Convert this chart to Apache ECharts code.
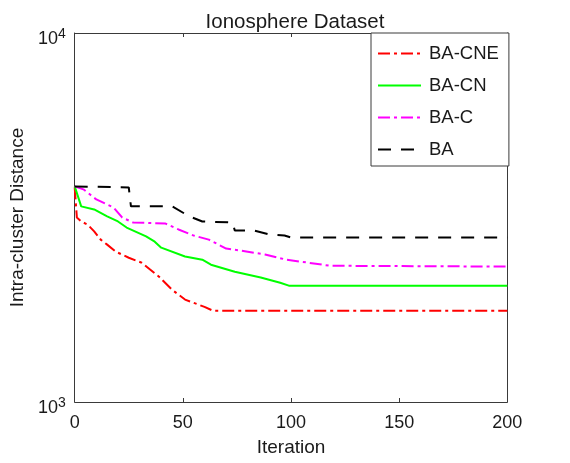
<!DOCTYPE html>
<html>
<head>
<meta charset="utf-8">
<script src="https://cdn.jsdelivr.net/npm/echarts@6/dist/echarts.min.js"></script>
<style>
  html, body { margin: 0; padding: 0; background: #fff; }
  #chart { width: 570px; height: 463px; }
</style>
</head>
<body>
<div id="chart"></div>
<script>
// Ionosphere Dataset - intra-cluster distance per iteration
const xTicks = [0, 50, 100, 150, 200];
const seriesNames = ['BA-CNE', 'BA-CN', 'BA-C', 'BA'];

const cneIter = [0, 1, 3, 6, 9, 12, 15, 19, 25, 31, 39, 45, 51, 60, 64, 200];
const cneDist = [3815, 3160, 3085, 3025, 2900, 2755, 2670, 2555, 2460, 2385, 2185, 2015, 1895, 1810, 1767, 1767];

const cnIter = [0, 3, 9, 15, 20, 24, 33, 37, 40, 51, 59, 63, 74, 86, 95, 99, 200];
const cnDist = [3840, 3390, 3325, 3185, 3085, 2970, 2810, 2720, 2620, 2480, 2430, 2355, 2255, 2175, 2105, 2067, 2067];

const cIter = [0, 4, 10, 18, 22, 27, 42, 48, 55, 62, 70, 80, 88, 98, 108, 118, 200];
const cDist = [3840, 3770, 3540, 3365, 3160, 3065, 3045, 2935, 2825, 2755, 2605, 2555, 2510, 2430, 2385, 2340, 2328];

const baIter = [0, 25, 26, 45, 53, 59, 73, 74, 83, 90, 97, 100, 200];
const baDist = [3840, 3815, 3390, 3390, 3185, 3085, 3065, 2915, 2915, 2845, 2825, 2790, 2790];

const colors = ['#ff0000', '#00ff00', '#ff00ff', '#000000'];
const dashes = [[12, 4, 3, 4], 'solid', [12, 4, 3, 4], [13, 10]];

const font = "'Liberation Sans', Arial, sans-serif";
const txt = '#1a1a1a';
const axisCol = '#3a3a3a';

const pairs = (xs, ys) => xs.map((x, i) => [x, ys[i]]);
const allData = [pairs(cneIter, cneDist), pairs(cnIter, cnDist), pairs(cIter, cDist), pairs(baIter, baDist)];

const chart = echarts.init(document.getElementById('chart'));
chart.setOption({
  animation: false,
  backgroundColor: '#fff',
  textStyle: { fontFamily: font },
  title: {
    text: 'Ionosphere Dataset',
    left: 290,
    top: 7,
    textAlign: 'center',
    textStyle: { fontFamily: font, fontSize: 20.5, fontWeight: 'normal', color: txt }
  },
  grid: { left: 72.7, right: 62.7, top: 33, bottom: 61, containLabel: false },
  legend: {
    data: seriesNames,
    orient: 'vertical',
    left: 371,
    top: 33,
    padding: [11, 10, 7, 6],
    itemWidth: 43,
    itemHeight: 14,
    itemGap: 13,
    borderColor: axisCol,
    borderWidth: 1,
    backgroundColor: '#fff',
    itemStyle: { opacity: 0 },
    textStyle: { fontFamily: font, fontSize: 18.5, color: txt, padding: [0, 0, 0, 3] }
  },
  xAxis: [
    {
      type: 'value',
      min: xTicks[0],
      max: xTicks[xTicks.length - 1],
      interval: 50,
      name: 'Iteration',
      nameLocation: 'middle',
      nameGap: 36,
      nameTextStyle: { fontFamily: font, fontSize: 19, color: txt },
      axisLine: { show: true, onZero: false, lineStyle: { color: axisCol, width: 1 } },
      axisTick: { show: true, inside: true, length: 4, lineStyle: { color: axisCol } },
      axisLabel: { margin: 12, fontFamily: font, fontSize: 18, color: txt },
      splitLine: { show: false }
    },
    {
      type: 'value',
      position: 'top',
      min: xTicks[0],
      max: xTicks[xTicks.length - 1],
      interval: 50,
      axisLine: { show: true, onZero: false, lineStyle: { color: axisCol, width: 1 } },
      axisTick: { show: true, inside: true, length: 4, lineStyle: { color: axisCol } },
      axisLabel: { show: false },
      splitLine: { show: false }
    }
  ],
  yAxis: [
    {
      type: 'log',
      logBase: 10,
      min: 1000,
      max: 10000,
      name: 'Intra-cluster Distance',
      nameLocation: 'middle',
      nameGap: 47,
      nameTextStyle: { fontFamily: font, fontSize: 19, color: txt },
      axisLine: { show: true, onZero: false, lineStyle: { color: axisCol, width: 1 } },
      axisTick: { show: false },
      axisLabel: {
        margin: 9,
        formatter: v => '{b|10}{s|' + Math.round(Math.log10(v)) + '}',
        rich: {
          b: { fontFamily: font, fontSize: 18, color: txt, padding: [12, 0, 0, 0] },
          s: { fontFamily: font, fontSize: 14, color: txt, padding: [2, 0, 0, 0] }
        }
      },
      splitLine: { show: false }
    },
    {
      type: 'log',
      logBase: 10,
      position: 'right',
      min: 1000,
      max: 10000,
      axisLine: { show: true, onZero: false, lineStyle: { color: axisCol, width: 1 } },
      axisTick: { show: false },
      axisLabel: { show: false },
      splitLine: { show: false }
    }
  ],
  series: seriesNames.map((name, i) => ({
    name: name,
    type: 'line',
    data: allData[i],
    showSymbol: false,
    symbol: 'none',
    smooth: false,
    color: colors[i],
    lineStyle: { color: colors[i], width: 2, type: dashes[i] }
  }))
});
</script>
</body>
</html>
